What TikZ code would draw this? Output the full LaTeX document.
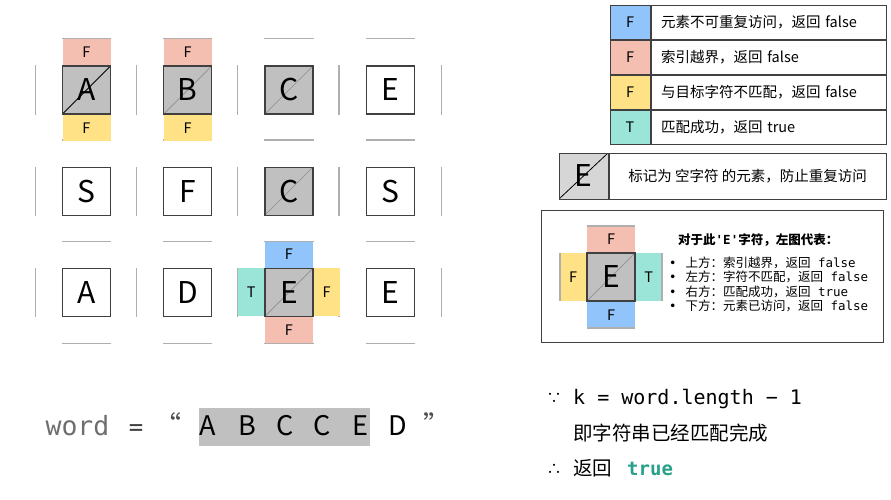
\documentclass[tikz,border=0pt]{standalone}
\usepackage{fontspec}
\setmainfont{Noto Sans CJK SC}
\setmonofont{DejaVu Sans Mono}
\newfontfamily\symfont{DejaVu Sans}
\usetikzlibrary{positioning}
\definecolor{cellline}{RGB}{64,64,64}
\definecolor{usedgray}{RGB}{192,192,192}
\definecolor{markgray}{RGB}{214,214,214}
\definecolor{diaggray}{RGB}{150,150,150}
\definecolor{sepgray}{RGB}{175,175,175}
\definecolor{tagblue}{RGB}{145,196,250}
\definecolor{tagred}{RGB}{244,190,176}
\definecolor{tagyellow}{RGB}{255,226,134}
\definecolor{tagteal}{RGB}{154,228,216}
\definecolor{trueteal}{RGB}{40,160,140}
\definecolor{wordgray}{RGB}{110,110,110}

\begin{document}
\begin{tikzpicture}[x=1pt,y=-1pt,
    cell/.style={draw=cellline,line width=1.2pt,minimum size=48pt,inner sep=0pt,
                 font=\fontsize{30}{30}\selectfont},
    used/.style={cell,fill=usedgray,path picture={\draw[#1,line width=0.8pt]
                 (path picture bounding box.south west)--(path picture bounding box.north east);}},
    used/.default=diaggray,
    usedk/.style={used=black},
    tag/.style={inner sep=0pt,minimum width=48pt,minimum height=26pt,
                font=\fontsize{14.5}{14.5}\selectfont},
    vtag/.style={inner sep=0pt,minimum width=26pt,minimum height=48pt,
                 font=\fontsize{14.5}{14.5}\selectfont},
    gridsep/.style={draw=sepgray,line width=1.3pt},
    key/.style={draw=cellline,line width=1pt,minimum width=40pt,minimum height=34pt,
                inner sep=0pt,font=\fontsize{14.5}{14.5}\selectfont},
    keytext/.style={draw=cellline,line width=1pt,minimum height=34pt,text width=215pt,
                    inner xsep=10pt,align=left,font=\fontsize{14.5}{14.5}\selectfont},
    note/.style={font=\fontsize{12.5}{14.4}\selectfont,align=left,inner sep=0pt},
    wordch/.style={font=\fontsize{27}{27}\selectfont,inner sep=0pt,anchor=base},
    proof/.style={font=\fontsize{19.5}{19.5}\selectfont,inner sep=0pt,anchor=base west},
  ]
    \useasboundingbox (0,0) rectangle (891,500);
    % board
    \node[usedk](c11) at (86.5,90) {A};
    \node[used](c12) at (187.7,90) {B};
    \node[used](c13) at (288.9,90) {C};
    \node[cell](c14) at (390.1,90) {E};
    \node[cell](c21) at (86.5,191.2) {S};
    \node[cell](c22) at (187.7,191.2) {F};
    \node[used](c23) at (288.9,191.2) {C};
    \node[cell](c24) at (390.1,191.2) {S};
    \node[cell](c31) at (86.5,292.4) {A};
    \node[cell](c32) at (187.7,292.4) {D};
    \node[used](c33) at (288.9,292.4) {E};
    \node[cell](c34) at (390.1,292.4) {E};
    \foreach \i in {1,2,3}{
      \foreach \j in {1,2,3,4}{
        \draw[gridsep]([xshift=-26.6pt]c\i\j.north west)--([xshift=-26.6pt]c\i\j.south west);
        \draw[gridsep]([yshift=26.6pt]c\i\j.north west)--([yshift=26.6pt]c\i\j.north east);
      }
      \draw[gridsep]([xshift=26.6pt]c\i4.north east)--([xshift=26.6pt]c\i4.south east);
    }
    \foreach \j in {1,2,3,4}
      \draw[gridsep]([yshift=-26.6pt]c3\j.south west)--([yshift=-26.6pt]c3\j.south east);
    \node[tag,fill=tagred,above=0pt of c11](c11up){F};
    \node[tag,fill=tagyellow,below=0pt of c11](c11down){F};
    \node[tag,fill=tagred,above=0pt of c12](c12up){F};
    \node[tag,fill=tagyellow,below=0pt of c12](c12down){F};
    \node[tag,fill=tagblue,above=0pt of c33](c33up){F};
    \node[tag,fill=tagred,below=0pt of c33](c33down){F};
    \node[vtag,fill=tagteal,left=0pt of c33](c33left){T};
    \node[vtag,fill=tagyellow,right=0pt of c33](c33right){F};
    % legend
    \node[key,fill=tagblue](kblue) at (630,22.5) {F};
    \node[keytext,right=0pt of kblue](tblue){元素不可重复访问，返回 false};
    \node[key,fill=tagred,below=0pt of kblue](kred){F};
    \node[keytext,right=0pt of kred](tred){索引越界，返回 false};
    \node[key,fill=tagyellow,below=0pt of kred](kyellow){F};
    \node[keytext,right=0pt of kyellow](tyellow){与目标字符不匹配，返回 false};
    \node[key,fill=tagteal,below=0pt of kyellow](kteal){T};
    \node[keytext,right=0pt of kteal](tteal){匹配成功，返回 true};
    \node[used=black,fill=markgray,line width=1pt,minimum width=49pt,minimum height=46pt]
      (mark) at (583.5,176) {E};
    \node[draw=cellline,line width=1pt,right=0pt of mark,minimum width=277pt,
      minimum height=46pt,font=\fontsize{14.5}{14.5}\selectfont](marktext)
      {标记为 空字符 的元素，防止重复访问};
    % example of one cell
    \node[draw=cellline,line width=1pt,minimum width=342pt,minimum height=132pt]
      (notebox) at (712,276) {};
    \node[used](ex) at (611,277) {E};
    \node[tag,fill=tagred,above=0pt of ex](exup){F};
    \node[vtag,fill=tagyellow,left=0pt of ex](exleft){F};
    \node[vtag,fill=tagteal,right=0pt of ex](exright){T};
    \node[tag,fill=tagblue,below=0pt of ex](exdown){F};
    \draw[gridsep](exup.north west)--(exup.north east);
    \draw[gridsep](exdown.south west)--(exdown.south east);
    \draw[gridsep](exleft.north west)--(exleft.south west);
    \draw[gridsep](exright.north east)--(exright.south east);
    \node[note,anchor=west,font=\bfseries\fontsize{12.5}{12.5}\selectfont](notetitle)
      at (678,240) {对于此\texttt{'E'}字符，左图代表：};
    \node[note,anchor=north west](notelist) at (669,256.5)
      {{\symfont •}\hspace{9pt}上方：索引越界，返回\texttt{ false}\\
       {\symfont •}\hspace{9pt}左方：字符不匹配，返回\texttt{ false}\\
       {\symfont •}\hspace{9pt}右方：匹配成功，返回\texttt{ true}\\
       {\symfont •}\hspace{9pt}下方：元素已访问，返回\texttt{ false}};
    % word
    \node[fill=usedgray,minimum width=171pt,minimum height=38pt,inner sep=0pt]
      (hl) at (284.5,427) {};
    \node[wordch,font=\ttfamily\fontsize{26.5}{26.5}\selectfont,text=wordgray]
      (wordname) at (77.5,435) {word};
    \node[wordch,font=\ttfamily\fontsize{24}{24}\selectfont,text=black!75](eq) at (136,435) {=};
    \node[wordch,text=black!70](qopen) at (168,435) {“};
    \foreach \ch/\x in {A/208,B/247,C/285,C/322,E/360,D/398}
      \node[wordch](ch\x) at (\x,435) {\ch};
    \node[wordch,text=black!70](qclose) at (437,435) {”};
    % conclusion
    \node[proof,anchor=base,font=\fontsize{15}{15}\selectfont](because) at (554,403) {∵};
    \node[proof,font=\ttfamily\fontsize{20}{20}\selectfont](kline) at (573,404)
      {k = word.length − 1};
    \node[proof](meaning) at (573,440.5) {即字符串已经匹配完成};
    \node[proof,anchor=base,font=\fontsize{15}{15}\selectfont](therefore) at (554,474) {∴};
    \node[proof](ret) at (573,475) {返回};
    \node[proof,font=\ttfamily\bfseries\fontsize{19}{19}\selectfont,text=trueteal]
      (rettrue) at (627,475) {true};
\end{tikzpicture}
\end{document}
